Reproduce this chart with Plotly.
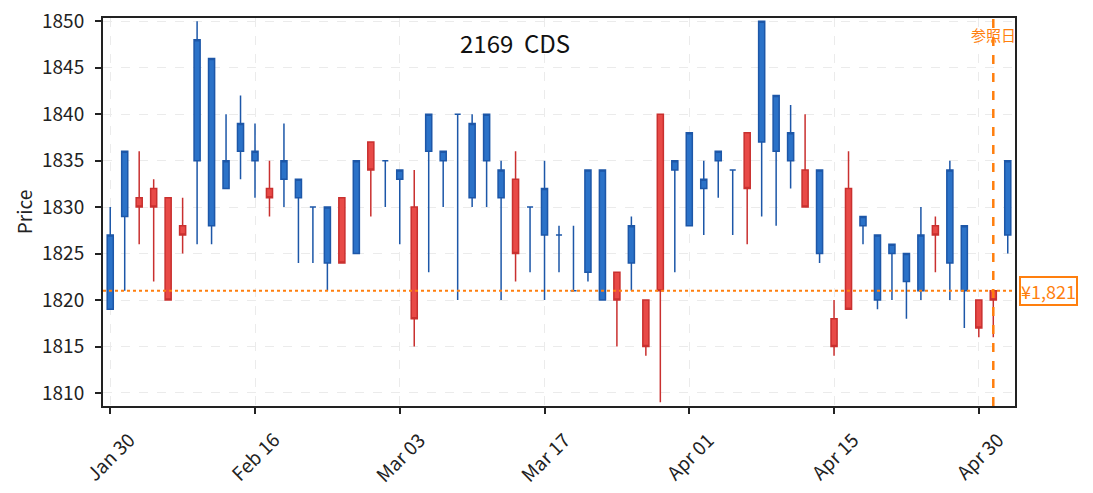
import plotly.graph_objects as go

# 2169 CDS daily prices (Tokyo trading days, 2026)
dates = [
    "2026-01-30", "2026-02-02", "2026-02-03", "2026-02-04", "2026-02-05",
    "2026-02-06", "2026-02-09", "2026-02-10", "2026-02-12", "2026-02-13",
    "2026-02-16", "2026-02-17", "2026-02-18", "2026-02-19", "2026-02-20",
    "2026-02-24", "2026-02-25", "2026-02-26", "2026-02-27", "2026-03-02",
    "2026-03-03", "2026-03-04", "2026-03-05", "2026-03-06", "2026-03-09",
    "2026-03-10", "2026-03-11", "2026-03-12", "2026-03-13", "2026-03-16",
    "2026-03-17", "2026-03-18", "2026-03-19", "2026-03-23", "2026-03-24",
    "2026-03-25", "2026-03-26", "2026-03-27", "2026-03-30", "2026-03-31",
    "2026-04-01", "2026-04-02", "2026-04-03", "2026-04-06", "2026-04-07",
    "2026-04-08", "2026-04-09", "2026-04-10", "2026-04-13", "2026-04-14",
    "2026-04-15", "2026-04-16", "2026-04-17", "2026-04-20", "2026-04-21",
    "2026-04-22", "2026-04-23", "2026-04-24", "2026-04-27", "2026-04-28",
    "2026-04-30", "2026-05-01", "2026-05-07",
]
open_ = [1819, 1829, 1831, 1832, 1831, 1828, 1835, 1828, 1832, 1836,
         1835, 1832, 1833, 1831, 1830, 1824, 1831, 1825, 1837, 1835,
         1833, 1830, 1836, 1835, 1840, 1831, 1835, 1831, 1833, 1830,
         1827, 1827, 1821, 1823, 1820, 1823, 1824, 1820, 1840, 1834,
         1828, 1832, 1835, 1834, 1838, 1837, 1836, 1835, 1834, 1825,
         1818, 1832, 1828, 1820, 1825, 1822, 1821, 1828, 1824, 1821,
         1820, 1821, 1827]
high = [1830, 1836, 1836, 1833, 1831, 1831, 1850, 1846, 1840, 1842,
        1839, 1835, 1839, 1833, 1830, 1830, 1831, 1835, 1837, 1835,
        1834, 1834, 1840, 1836, 1840, 1840, 1840, 1835, 1836, 1830,
        1835, 1828, 1828, 1834, 1834, 1823, 1829, 1820, 1840, 1835,
        1838, 1835, 1836, 1834, 1838, 1850, 1842, 1841, 1840, 1834,
        1820, 1836, 1829, 1827, 1826, 1825, 1830, 1829, 1835, 1828,
        1820, 1821, 1835]
low = [1819, 1821, 1826, 1822, 1820, 1825, 1826, 1826, 1832, 1833,
       1831, 1829, 1830, 1824, 1824, 1821, 1824, 1825, 1829, 1830,
       1826, 1815, 1823, 1830, 1820, 1830, 1830, 1820, 1822, 1823,
       1820, 1823, 1821, 1822, 1820, 1815, 1821, 1814, 1809, 1823,
       1828, 1827, 1831, 1827, 1826, 1829, 1828, 1832, 1830, 1824,
       1814, 1819, 1826, 1819, 1820, 1818, 1820, 1823, 1820, 1817,
       1816, 1816, 1825]
close = [1827, 1836, 1830, 1830, 1820, 1827, 1848, 1846, 1835, 1839,
         1836, 1831, 1835, 1833, 1830, 1830, 1824, 1835, 1834, 1835,
         1834, 1818, 1840, 1836, 1840, 1839, 1840, 1834, 1825, 1830,
         1832, 1827, 1821, 1834, 1834, 1820, 1828, 1815, 1821, 1835,
         1838, 1833, 1836, 1834, 1832, 1850, 1842, 1838, 1830, 1834,
         1815, 1819, 1829, 1827, 1826, 1825, 1827, 1827, 1834, 1828,
         1817, 1820, 1835]

tick_dates = ["2026-01-30", "2026-02-16", "2026-03-03", "2026-03-17",
              "2026-04-01", "2026-04-15", "2026-04-30"]
tick_labels = ["Jan 30", "Feb 16", "Mar 03", "Mar 17", "Apr 01", "Apr 15", "Apr 30"]
price_ticks = [1810, 1815, 1820, 1825, 1830, 1835, 1840, 1845, 1850]

ref_date = "2026-05-01"
ref_price = 1821
title = "2169\u00a0\u00a0CDS"

FONT = "Noto Sans CJK JP"
ORANGE = "#ff7f0e"
BLUE_FILL, BLUE_EDGE = "#2b72c8", "#1d57a8"
RED_FILL, RED_EDGE = "#e84a47", "#c9302f"


def split(up):
    # keep only up (close >= open) or only down candles in a trace
    sel = [(c >= o) == up for o, c in zip(open_, close)]
    pick = lambda arr: [v if s else None for v, s in zip(arr, sel)]
    return pick(open_), pick(high), pick(low), pick(close)


fig = go.Figure()

for up, fill, edge in [(True, BLUE_FILL, BLUE_EDGE), (False, RED_FILL, RED_EDGE)]:
    o, h, l, c = split(up)
    fig.add_trace(go.Candlestick(
        x=dates, open=o, high=h, low=l, close=c,
        increasing=dict(fillcolor=fill, line=dict(color=edge, width=1.5)),
        decreasing=dict(fillcolor=fill, line=dict(color=edge, width=1.5)),
        whiskerwidth=0,
        showlegend=False,
        hoverinfo="x+y",
    ))

# reference price / date lines
fig.add_hline(y=ref_price, line=dict(color=ORANGE, width=2, dash="dot"))
fig.add_vline(x=dates.index(ref_date), line=dict(color=ORANGE, width=2.5, dash="dash"))

fig.add_annotation(
    x=dates.index(ref_date), y=0.958, xref="x", yref="paper",
    text="参照日", showarrow=False, xanchor="center", yanchor="middle",
    font=dict(family=FONT, size=15, color=ORANGE),
)
fig.add_annotation(
    x=1.004, y=ref_price, xref="paper", yref="y",
    text=f"¥{ref_price:,}", showarrow=False, xanchor="left", yanchor="middle",
    font=dict(family=FONT, size=18, color=ORANGE),
    bgcolor="white", bordercolor=ORANGE, borderwidth=2, borderpad=0,
)
fig.add_annotation(
    x=0.452, y=0.936, xref="paper", yref="paper",
    text=title, showarrow=False, xanchor="center", yanchor="middle",
    font=dict(family=FONT, size=24, color="#111"),
)

# date labels centred under their ticks (matplotlib style rotation)
for d, lab in zip(tick_dates, tick_labels):
    fig.add_annotation(
        x=dates.index(d), y=-0.044, xref="x", yref="paper",
        text=lab, showarrow=False, textangle=-45,
        xanchor="center", yanchor="top",
        font=dict(family=FONT, size=19, color="#222"),
    )

axis_common = dict(
    showline=True, linecolor="#222", linewidth=2, mirror=True,
    ticks="outside", ticklen=6, tickwidth=1.5, tickcolor="#222",
    showgrid=True, gridcolor="#ebebeb", griddash="dash", gridwidth=1,
    zeroline=False, automargin=False,
    tickfont=dict(family=FONT, size=19, color="#222"),
)

# page body adds an 8px offset, so the figure is sized/margined to land on the same pixels
fig.update_layout(
    width=1085, height=485,
    margin=dict(l=95, r=78, t=10, b=87),
    paper_bgcolor="white", plot_bgcolor="white",
    font=dict(family=FONT, color="#222"),
    boxgap=0.4,
    xaxis=dict(
        type="category",
        range=[-0.5, len(dates) - 0.5],
        tickvals=tick_dates, showticklabels=False,
        rangeslider=dict(visible=False),
        **axis_common,
    ),
    yaxis=dict(
        range=[1808.6, 1850.35],
        tickvals=price_ticks,
        ticklabeloverflow="allow",
        ticklabelstandoff=7,
        title=dict(text="Price", font=dict(family=FONT, size=19, color="#222"), standoff=4),
        **axis_common,
    ),
)

fig.write_html("out.html")
